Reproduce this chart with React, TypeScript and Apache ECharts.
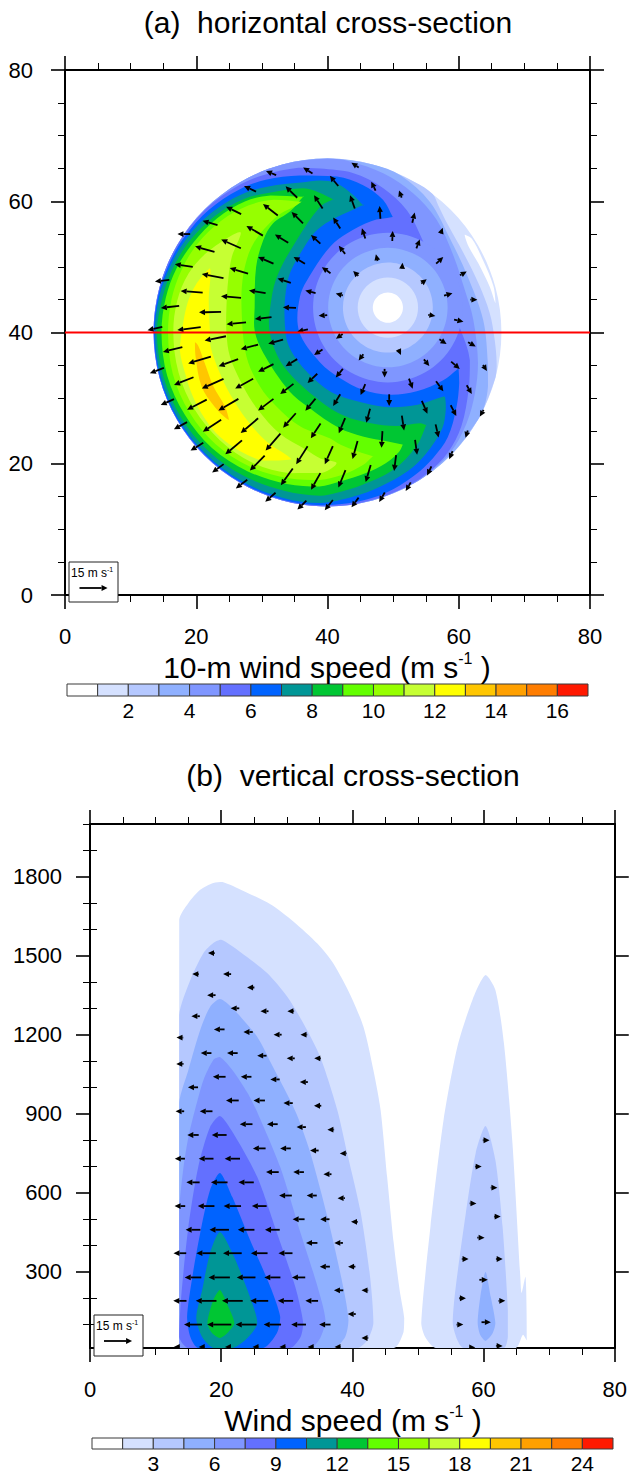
import React, { useEffect, useRef } from "react";
import * as echarts from "echarts";

const FONT = "Liberation Sans";
const levelColors = ["#ffffff","#d5e1ff","#b5c8ff","#8fb0ff","#7f96ff","#6370ff","#0063ff","#009696","#00c633","#63ff00","#96ff00","#c6ff33","#ffff00","#ffc600","#ffa000","#ff7d00","#ff1900"];
const heightMajor = [300, 600, 900, 1200, 1500, 1800];
const heightMinor = [100, 200, 400, 500, 700, 800, 1000, 1100, 1300, 1400, 1600, 1700, 1900, 2000];
const crossSectionLine = [[0, 40], [80, 40]];
const refSpeed = 15;
const pxPerMs = 1.87;

const stormCentre = [40, 40];
const eyeCentre = [49.2, 43.8];
const rimRadius = 26.5;
const rimDegrees = [0,15,30,45,60,75,90,105,120,135,150,165,180,195,210,225,240,255,270,285,300,315,330,345];
const eyeRadii = [11.4, 9.1, 6.85, 4.6, 2.3];

type P = number[];
const whitePatch = [[60.9,54.9],[62,54.3],[63.7,51],[65.3,47],[65.6,44.5],[64.7,47],[63,50.5],[61.5,53.1]];
const edge3 = [[345,26.5],[349.7,26.2],[357.5,25.5],[366.8,24.9],[378,24.2],[390.3,24],[401.7,24.6],[409,25.7],[412.8,26.5]];
const edge4 = [[335,26.4],[341.4,25.8],[349,24.9],[364.6,23.8],[382,23],[397.3,23.5],[412,25.3],[425,26.4]];
const edge5 = [[305,26.4],[315.4,26.2],[326.9,25.3],[337.6,24.3],[348.5,23.4],[365,22.3],[378,21.9],[391.6,22.5],[405.9,23.9],[418.4,24.9],[430.7,25.7],[442.5,26.3]];
const outer6 = [[45,20.3],[57,22.2],[69,23.6],[81,24.6],[92.6,25],[100,25.5],[112,25.9],[122,26.2],[134,26.4],[146,26.45],[157,26.5],[168,26.5],[180,26.5],[195,26.5],[210,26.5],[225,26.5],[240,26.5],[255,26.5],[268,26.5],[280,26.45],[294,26.4],[305,26.3],[315,25.9],[325,24.9],[338,23.2],[349,22.1],[360.3,20.4]];
const outer7 = [[60.5,20.2],[67.2,21.9],[76.4,23.1],[86.6,23.8],[100,24.3],[112,25.1],[122,25.6],[134,26],[146,26.2],[157,26.3],[168,26.4],[180,26.45],[195,26.45],[210,26.45],[225,26.4],[240,26.4],[255,26.4],[268,26.35],[280,26.2],[290,26],[301,25.5],[310,25],[319,24.3],[330,22.7],[339,21.5],[344.7,20.7]];
const inner7 = [[319,14.2],[307,13.9],[289,13.5],[271,13.3],[253,13.1],[236,13],[219,13.3],[195,14],[173,13.5],[156,12.8],[133,12.8],[119,12.9],[101,13.4],[87,13.8]];
const outer8 = [[74.2,20.1],[79.4,21.3],[86.5,22.8],[92.8,23.2],[100,23.2],[112,24],[122,24.8],[134,25.4],[146,25.8],[157,26],[168,26.2],[180,26.3],[195,26.3],[210,26.25],[225,26.2],[240,26.15],[255,26.1],[267.5,26],[279,25.3],[289,24.8],[300,24.4],[309,23.8],[320,22.8],[327,21.5],[331,20.5]];
const inner8 = [[302,16],[287,15.5],[271,15.2],[256,15],[240,15.4],[229,15.6],[210,16],[195,16.1],[166,15.8],[146,15.7],[130,16],[103,16.1]];
const outer9 = [[87.5,20.3],[93,21.3],[99.6,22.3],[112,23],[122,24],[134,24.7],[146,25.2],[157,25.5],[168,25.7],[180,26],[195,25.9],[210,25.8],[225,25.6],[240,25.3],[255,25],[267.5,24.9],[273,24.5],[283,23.8],[295.6,23.2],[308,22],[317,20.6]];
const inner9 = [[288,18.8],[285.6,18.3],[274,18.1],[261,17.8],[248,17.8],[234,17.6],[210,18.2],[192,18.4],[176,17.8],[163,17.5],[143,17.3],[124,18.5],[116.6,18.5]];
const outer10 = [[100,21],[112.5,22.6],[122,23.6],[134,24.2],[146,24.6],[157,25],[168,25.2],[180,25.3],[195,25.3],[210,25.1],[225,24.9],[240,24.4],[255,23.9],[267,23.5],[274.8,22.8],[285.6,22.2],[294,21.8],[301,21.2],[303.8,20.6]];
const inner10 = [[276,21],[270,20.4],[259,20],[248,19.8],[232,19.4],[220,19.7],[200,20.2],[190,20.6],[180,20.3],[163,21],[151.5,21.6],[143.7,21.7],[135.6,20.9],[127,21.3]];
const outer11 = [[101.2,20.3],[112,21.8],[122,22.8],[133.7,23.5],[146,24],[157,24.2],[168,24.3],[180,24.3],[195,24.4],[210,24.3],[225,24.1],[240,23.6],[255,23],[267,22.5],[276,21.8],[285,20.9],[290,20.1]];
const inner11 = [[264.5,22.8],[258,22.4],[251,22.1],[246,21.8],[233.5,22.5],[221.6,22.7],[211.7,22.9],[199,22.8],[180,22.3],[166.6,22.6],[154.5,22.7],[140.7,21.9],[131.7,20.9],[129,20.8]];
const outer12 = [[131,20.3],[146,22],[157,23],[168,23.4],[180,23.5],[195,23.5],[210,23.4],[225,23.2],[240,22.9],[255,22.2],[268,21.4],[274,19.95]];
const inner12 = [[245.9,25.2],[240.3,25],[229.3,25.3],[218.2,25.2],[208.6,25.1],[197.3,25.2],[189,24.9],[180,24.6],[170,24.7],[162,25]];
const yellow13 = [[22.1,49.8],[20.8,48.5],[19.5,46.5],[18.5,43.9],[17.8,40.1],[17.5,37.3],[18.3,33.8],[19.5,30.2],[21.3,26.9],[23.6,24.1],[26.7,21.9],[30.2,20.5],[34.5,20.7],[33.8,21.3],[30.7,23.4],[27.7,26.7],[25.1,30.7],[23.4,34.3],[22.2,37.8],[22.1,39.9],[21.9,44.9]];
const orange14 = [[19.8,38.5],[19.9,36.3],[20.8,31.8],[22.8,28.7],[25,26.7],[24.4,28.7],[22.6,31.8],[21.3,35.3],[20.3,38]];

const windA = [
[18.1,55,-6.8,0],[22.1,56.7,-8,2.3],[25.7,58.6,-8,3.9],[28.2,61.9,-6.4,3],[31.4,64.3,-5.4,2.3],[37,64.7,-5,3.2],[34.5,61.4,-6.2,6.1],[38.6,59.9,-4.6,7],[31.3,58.7,-7.9,6.1],[35.4,57.5,-6.1,6.1],
[28.9,55.5,-8.8,5.2],[33,54.3,-7.1,4.5],[38.2,54.2,-5,4.6],[25.3,53.5,-10.5,4.6],[21.3,52.7,-10.4,3],[18.1,50.2,-9.6,1.4],[26.5,49.4,-9.8,2.9],[30.6,51,-8.2,3.6],[35.7,51,-6.1,3.6],[14.8,47.9,-7.7,-0.9],
[22.5,48.6,-11.6,2.3],[33.4,47.9,-7.1,2.3],[19.3,46.2,-11.8,0.9],[25.3,45.4,-10.7,0.9],[29.3,46.2,-8.9,1.3],[37.4,46.2,-5.5,1.3],[16,43.9,-9.8,-1.1],[34.2,43.8,-7,0.4],[22.1,43.1,-11.8,-0.2],[39.3,42.6,-4.6,-0.4],
[26.1,41.4,-10.4,-1.1],[30.2,42.2,-8.9,-1.1],[13.7,40.6,-7.9,-1.8],[18.9,40.6,-12.5,-1.6],[36.2,40.3,-5.7,-1.3],
[44.2,65.5,-3.9,2.5],[41,63.1,-4.5,5.4],[47,62.3,-2.3,4.8],[51.1,61.1,-1.4,3.9],[43.8,59.9,-2.5,7.1],[48,58.3,-0.4,6.8],[41.4,56.7,-3.8,5.9],[53.1,57.5,1.3,5.4],[57.4,55.5,1.1,3.2],[45.5,55.1,-1.8,5.4],
[49.9,54.7,0.2,5.4],[53.8,53.5,1.8,4.8],[42.2,52.6,-3.4,4.3],[47.5,51.4,-0.9,3.6],[57.1,51,3.8,3.6],[51.4,50.2,0.2,3],[39.8,49.5,-4.6,3.2],[44.3,49,-2.7,2.7],[54.7,47.8,2.9,2.3],[60.7,49,3.6,2],
[41.8,45.8,-3.8,1.1],[58.4,45.8,4.5,1.3],[62.3,45,3.8,0],[55.9,42.6,3.8,-0.7],[60,41.8,5,-1.1],
[22.9,39.1,-11.4,-2.3],[16.4,37.4,-10.4,-2.5],[28.1,37.8,-9.3,-2.5],[32.1,38.6,-7.9,-2.3],[38.6,37,-4.5,-3],[20.5,35.8,-12.1,-3.6],[24.9,35.4,-10.4,-3.8],[30.6,34.6,-8.2,-4.1],[14,34.2,-7.5,-2.9],[34.5,35.4,-6.2,-3.8],
[18.1,32.6,-10.4,-4.1],[22.5,32.2,-11.6,-5.2],[27.3,32.2,-9.6,-5.2],[37.7,33,-5.2,-5],[33.8,31.4,-7.1,-5.4],[15.6,29.4,-7.1,-3.2],[20.1,29,-10.5,-5.4],[24.9,29,-10.7,-6.2],[30.6,29,-8.2,-6.2],[37.4,29,-5.4,-6.4],
[17.6,25.8,-7,-3.8],[22.4,25.8,-9.8,-6.4],[28.1,25.8,-9.3,-7.9],[34.2,26.6,-6.8,-7.7],[38.2,25,-5.2,-7.9],[20.1,22.6,-6.8,-4.1],[25.7,22.5,-8.9,-7.5],[31.7,23.3,-7.9,-9.1],[36.1,21.3,-6.1,-9.6],[23.3,19.3,-6.2,-4.5],
[29.3,20.1,-7.9,-8],[33.8,18,-6.4,-8.9],[38.2,17.3,-5,-8.9],[26.9,16.9,-6.1,-4.6],[31.3,14.9,-5.5,-4.8],[36.1,13.7,-4.8,-4.8],
[41.8,39.4,-3.6,-2.5],[57.6,38.6,3.8,-2.5],[62,38.2,4.1,-2.3],[45.1,36.2,-2.5,-3.4],[51,37,1.4,-3],[55.1,35.4,2.9,-3.6],[59.5,35,4.6,-3.9],[64,34.6,2.1,-3.2],[41.8,33.8,-3.8,-4.6],[48.7,33.8,0,-4.6],
[52.7,32.2,2,-5.4],[57.1,31.8,3.9,-5.4],[45.4,31.3,-2.5,-5.9],[61.6,31.3,2.7,-4.6],[41.4,29.7,-3.8,-6.2],[49.4,29.7,0,-6.2],[54.8,28.6,3,-6.8],[59.2,28.1,3,-5.7],[63.5,27.7,-2,-3.6],[46.2,27.3,-2,-7.5],
[51.5,26.2,1.2,-7.9],[42.2,25.8,-3.4,-8],[56.7,25,1.6,-7],[61.2,24.5,-1.2,-3.9],[48.3,23.7,-0.5,-8.9],[53.5,22.5,1.1,-8],[44.2,22.1,-2.7,-9.6],[58.8,21.3,-1.8,-4.3],[40.2,21.3,-4.3,-9.6],[50.3,20.1,-1.1,-8.4],
[55.5,18.9,-2.3,-4.8],[46.2,18.5,-2.7,-9.1],[42.2,17.7,-3.8,-9.3],[52.3,16.5,-2.7,-4.6],[48.3,14.9,-3,-5],[44.2,14.1,-3.8,-5.2],[40.2,13.7,-4.3,-5.4],
];

const b2left = [[13.6,10],[13.6,800],[13.6,1636],[15,1700],[16.8,1750],[18.8,1776],[20.2,1780],[23.4,1746],[27.5,1695],[31,1630],[34.7,1545],[37.1,1470],[39.7,1350],[41.7,1229],[43.2,1066],[44.3,914],[45.3,659],[46.3,409],[47.2,230],[47.9,124],[47.8,71],[46.3,10]];
const b3left = [[13.6,10],[13.6,640],[13.6,1275],[15.3,1408],[17.3,1510],[18.8,1548],[20,1560],[22.9,1514],[27,1434],[30.1,1343],[32.5,1244],[35.1,1115],[37.7,914],[39.2,751],[41.2,534],[42.7,280],[43.2,105],[42.3,40],[40.8,10]];
const b4left = [[13.6,10],[13.6,480],[13.6,941],[15,1066],[16.8,1218],[18.3,1305],[19.8,1335],[21.7,1301],[25.5,1191],[27.9,1077],[30.5,952],[31.8,880],[33.6,751],[36.2,508],[38.6,242],[39.4,116],[38.9,52],[37.1,10]];
const b5left = [[13.6,10],[13.6,270],[13.6,534],[14.2,686],[15,811],[16,914],[17.3,1028],[18.8,1104],[19.8,1115],[21.7,1066],[24,979],[25.6,900],[29,697],[32.1,447],[34.7,242],[35.9,116],[35.1,48],[33.6,10]];
const b6left = [[15,10],[13.6,52],[13.9,204],[15,470],[16.5,697],[18.3,849],[19.8,891],[21.8,827],[25.5,659],[28.5,447],[31.3,242],[32.5,105],[32.1,52],[30.5,10]];
const b7left = [[16.5,10],[15.3,52],[14.8,128],[15.6,280],[16.8,447],[18.3,610],[19.8,675],[21.7,583],[24.4,420],[27.5,242],[29,128],[28.5,67],[26.4,10]];
const b8left = [[18.8,10],[17.1,52],[16.2,124],[17.1,230],[18.3,371],[19.8,451],[21.7,371],[24,230],[25.5,105],[24,48],[21.8,10]];
const b9left = [[19.8,230],[18.8,192],[17.9,105],[18.6,67],[19.8,48],[21.1,71],[22,105],[21.1,166]];
const b2right = [[52.7,10],[51.1,52],[50.5,105],[51.9,470],[53.9,876],[56,1153],[58.3,1332],[60.3,1427],[61.8,1370],[63.1,1168],[64.4,789],[65.6,280],[65.8,219],[66.4,280],[66.6,40],[66,60],[64.9,10]];
const b3right = [[56.9,10],[56,40],[55.3,105],[55.7,230],[57.3,523],[58.8,751],[60.3,853],[61.8,724],[62.9,470],[63.7,154],[63.7,52],[63.1,10]];
const b4right = [[60.3,299],[59.5,204],[59.1,105],[59.5,59],[60.3,37],[61.4,67],[61.8,105],[61.1,204]];

const windB = [
[18.5,1510,-3.6],[16.1,1430,-3.6],[20.9,1430,-4.3],[24.5,1379,-3.9],[18.5,1350,-4.5],[22.1,1300,-4.6],[26.6,1289,-4.3],[30.6,1289,-3.6],[16.1,1270,-4.5],[19.7,1220,-5.7],
[24.1,1210,-5],[28.6,1200,-4.3],[32.6,1200,-3.6],[13.7,1189,-3.6],[17.7,1130,-5.7],[21.7,1130,-5.7],[26.2,1120,-5],[30.6,1110,-4.3],[34.7,1110,-3.6],[13.7,1089,-3.9],
[19.7,1040,-6.8],[23.8,1040,-5.7],[28.2,1030,-5],[32.6,1020,-4.3],[15.7,1000,-5.4],[21.7,950,-6.8],[25.8,950,-6.1],[30.2,940,-5],[34.7,930,-3.9],[13.7,909,-4.6],
[17.7,909,-6.8],[23.8,860,-6.8],[27.8,860,-5.7],[32.2,849,-5],[36.7,839,-3.6],[15.7,819,-6.1],[19.7,819,-7.9],[25.8,768,-6.8],[29.8,768,-5.7],[34.2,760,-4.6],
[38.6,749,-3.6],[13.7,729,-5.4],[17.7,729,-7.9],[21.7,729,-8.2],[27.8,678,-6.8],[31.8,678,-5.7],[36.2,670,-4.3],[15.7,639,-7.1],[19.7,639,-8.9],[23.8,639,-8.2],
[29.8,589,-6.8],[33.8,589,-5.4],[38.3,579,-3.9],[13.7,549,-5.7],[17.7,549,-8.9],[21.7,549,-9.3],[25.8,549,-7.9],[31.8,499,-6.4],[35.8,499,-5],[40.3,489,-3.6],
[15.7,459,-7.9],[19.7,459,-10.4],[23.8,459,-8.9],[27.8,459,-7.9],[33.8,409,-6.1],[37.9,409,-4.6],[13.7,370,-6.8],[17.7,370,-10.4],[21.7,370,-10],[25.8,370,-8.9],
[29.8,370,-7.5],[35.8,319,-5.4],[39.9,319,-3.9],[15.7,278,-8.9],[19.7,278,-11.4],[23.8,278,-10],[27.8,278,-8.6],[31.8,278,-7.1],[37.9,229,-5],[41.9,229,-3.6],
[13.7,189,-7.1],[17.7,189,-11.1],[21.7,189,-11.1],[25.8,189,-9.6],[29.8,189,-8.2],[33.8,189,-6.8],[39.9,139,-4.3],[15.7,99,-9.6],[19.7,99,-12.9],[23.8,99,-11.1],
[27.8,99,-9.3],[31.8,99,-7.9],[35.8,99,-6.1],[41.9,48,-3.6],[13.2,14,-3],[17,14,-3],[21,14,-3],[25.2,14,-3],[29.3,14,-3],[33.6,14,-3],[37.7,14,-3],
[60.4,799,3.6],[59.2,699,3.6],[61.6,619,3.6],[58.4,559,3.6],[62.1,509,3.6],[59.6,429,3.9],[57.2,348,3.6],[62.4,348,3.6],[60,269,4.5],[56.8,199,3.6],[62.8,189,3.6],[56.4,99,3.6],[60.4,108,5],[62.4,18,3.6],[58.3,12,3],
];

function polar(c: P, list: number[][]): number[][] {
  return list.map(([deg, r]) => [c[0] + r * Math.cos((deg * Math.PI) / 180), c[1] + r * Math.sin((deg * Math.PI) / 180)]);
}
function rim(from: number, to: number): number[][] {
  return rimDegrees.filter((d) => d > from && d < to).map((d) => [d, rimRadius]);
}
const layersA: { color: string; points: number[][] }[] = [
  { color: levelColors[1], points: polar(stormCentre, rimDegrees.map((d) => [d, rimRadius])) },
  { color: levelColors[0], points: whitePatch },
  { color: levelColors[2], points: polar(stormCentre, [...rim(52, 345), ...edge3]) },
  { color: levelColors[3], points: polar(stormCentre, [...rim(65, 335), ...edge4]) },
  { color: levelColors[4], points: polar(stormCentre, [...rim(82, 305), ...edge5]) },
  { color: levelColors[5], points: polar(stormCentre, outer6) },
  { color: levelColors[6], points: [...polar(stormCentre, outer7), ...polar(eyeCentre, inner7)] },
  { color: levelColors[7], points: [...polar(stormCentre, outer8), ...polar(eyeCentre, inner8)] },
  { color: levelColors[8], points: [...polar(stormCentre, outer9), ...polar(eyeCentre, inner9)] },
  { color: levelColors[9], points: [...polar(stormCentre, outer10), ...polar(eyeCentre, inner10)] },
  { color: levelColors[10], points: [...polar(stormCentre, outer11), ...polar(eyeCentre, inner11)] },
  { color: levelColors[11], points: [...polar(stormCentre, outer12), ...polar(eyeCentre, inner12)] },
  { color: levelColors[12], points: yellow13 },
  { color: levelColors[13], points: orange14 },
  ...eyeRadii.map((r, i) => ({ color: levelColors[4 - i], points: polar(eyeCentre, rimDegrees.map((d) => [d, r])) })),
];
const layersB = [
  { color: levelColors[1], points: b2left }, { color: levelColors[2], points: b3left }, { color: levelColors[3], points: b4left },
  { color: levelColors[4], points: b5left }, { color: levelColors[5], points: b6left }, { color: levelColors[6], points: b7left },
  { color: levelColors[7], points: b8left }, { color: levelColors[8], points: b9left },
  { color: levelColors[1], points: b2right }, { color: levelColors[2], points: b3right }, { color: levelColors[3], points: b4right },
];

function contourSeries(layers: { color: string; points: number[][] }[], axis: number, smooth: number) {
  return {
    type: "custom", xAxisIndex: axis, yAxisIndex: axis, z: 2, silent: true, clip: true,
    data: layers.map((_, i) => [i]),
    renderItem: (_p: any, api: any) => {
      const l = layers[api.value(0)];
      const pts: number[][] = l.points.map((p) => api.coord(p));
      const xs = pts.map((p) => p[0]);
      const ys = pts.map((p) => p[1]);
      const bounds = [[Math.min(...xs), Math.min(...ys)], [Math.max(...xs), Math.max(...ys)]];
      return { type: "polygon", shape: { points: pts, smooth, smoothConstraint: bounds }, style: { fill: l.color } };
    },
  };
}
function arrowShape(cx: number, cy: number, dx: number, dy: number) {
  const len = Math.hypot(dx, dy) || 1;
  const ux = dx / len, uy = dy / len;
  const tip = [cx + dx / 2, cy + dy / 2];
  const base = [tip[0] - ux * 6, tip[1] - uy * 6];
  return [
    { type: "line", shape: { x1: cx - dx / 2, y1: cy - dy / 2, x2: base[0], y2: base[1] }, style: { stroke: "#000", lineWidth: 1.8 } },
    { type: "polygon", shape: { points: [tip, [base[0] - uy * 2.9, base[1] + ux * 2.9], [base[0] + uy * 2.9, base[1] - ux * 2.9]] }, style: { fill: "#000" } },
  ];
}
function windSeries(rows: number[][], axis: number) {
  return {
    type: "custom", xAxisIndex: axis, yAxisIndex: axis, z: 3, silent: true, clip: axis !== 0,
    data: rows,
    renderItem: (_p: any, api: any) => {
      const [cx, cy] = api.coord([api.value(0), api.value(1)]);
      const v = rows[_p.dataIndex][3] || 0;
      return { type: "group", children: arrowShape(cx, cy, api.value(2) * pxPerMs, -v * pxPerMs) };
    },
  };
}
function barSeries(axisX: number, axisY: number, step: number) {
  return {
    type: "custom", xAxisIndex: axisX, yAxisIndex: axisY, silent: true, clip: false,
    data: levelColors.map((_, i) => [i * step, (i + 1) * step]),
    renderItem: (p: any, api: any) => {
      const a = api.coord([api.value(0), 1]);
      const b = api.coord([api.value(1), 0]);
      return { type: "rect", shape: { x: a[0], y: a[1], width: b[0] - a[0], height: b[1] - a[1] }, style: { fill: levelColors[p.dataIndex], stroke: "#3a3a3a", lineWidth: 1 } };
    },
  };
}
const lineStyle = { color: "#000", width: 2 };
const thin = { color: "#000", width: 1 };
const labelStyle = { fontFamily: FONT, fontSize: 22, color: "#000" };
const plain = (v: number) => String(v);

function xAxisPair(grid: number) {
  const common = {
    gridIndex: grid, type: "value", min: 0, max: 80, interval: 20, splitLine: { show: false },
    axisLine: { show: true, onZero: false, lineStyle }, axisTick: { show: true, length: 14, lineStyle: { color: "#000", width: 1.6 } },
    minorTick: { show: true, splitNumber: 4, length: 7, lineStyle: thin },
  };
  return [
    { ...common, position: "bottom", axisLabel: { ...labelStyle, margin: 30, showMinLabel: true, showMaxLabel: true } },
    { ...common, position: "top", axisLabel: { show: false } },
  ];
}
function colorbarX(grid: number, max: number, interval: number) {
  return {
    gridIndex: grid, type: "value", min: 0, max, interval, position: "bottom", splitLine: { show: false },
    axisLine: { show: false }, axisTick: { show: false },
    axisLabel: { fontFamily: FONT, fontSize: 21, color: "#000", margin: 4, showMinLabel: false, showMaxLabel: false },
  };
}
function unitTitle(text: string, x: number, y: number) {
  const a = { fontFamily: FONT, fontSize: 30, fontWeight: "normal", color: "#000", lineHeight: 34 };
  const s = { fontFamily: FONT, fontSize: 16, fontWeight: "normal", color: "#000", verticalAlign: "top", lineHeight: 34 };
  return { text: `{a|${text} (m s}{s|-1}{a| )}`, left: x, top: y, textAlign: "center", padding: 0, textStyle: { rich: { a, s } } };
}
function vectorKey(x: number, y: number, w: number, h: number, ax: number, ay: number, tx: number, ty: number) {
  const len = refSpeed * pxPerMs;
  return [
    { type: "rect", z: 50, shape: { x, y, width: w, height: h }, style: { fill: "#fff", stroke: "#222", lineWidth: 1 } },
    { type: "text", z: 51, x: tx, y: ty, style: { text: "{a|15 m s}{s|-1}", fill: "#000", rich: { a: { fontFamily: FONT, fontSize: 12, fill: "#000", lineHeight: 14 }, s: { fontFamily: FONT, fontSize: 7, fill: "#000", verticalAlign: "top", lineHeight: 14 } } } },
    ...arrowShape(ax + len / 2, ay, len, 0).map((e) => ({ ...e, z: 51 })),
  ];
}

export default function App() {
  const ref = useRef<HTMLDivElement>(null);
  useEffect(() => {
    document.body.style.margin = "0";
    const chart = echarts.init(ref.current!, undefined, { renderer: "svg" });
    const titleStyle = { fontFamily: FONT, fontSize: 30, fontWeight: "normal", color: "#000" };
    const option: any = {
      animation: false,
      backgroundColor: "#fff",
      title: [
        { text: "(a)  horizontal cross-section", left: 328, top: 7, textAlign: "center", padding: 0, textStyle: titleStyle },
        { text: "(b)  vertical cross-section", left: 353, top: 760, textAlign: "center", padding: 0, textStyle: titleStyle },
        unitTitle("10-m wind speed", 327, 650),
        unitTitle("Wind speed", 353, 1403),
      ],
      grid: [
        { left: 65, top: 70, width: 525, height: 525 },
        { left: 90, top: 824, width: 525, height: 524 },
        { left: 67, top: 684, width: 521, height: 12 },
        { left: 92, top: 1438, width: 521, height: 12 },
      ],
      xAxis: [...xAxisPair(0), ...xAxisPair(1), colorbarX(2, 17, 2), colorbarX(3, 25.5, 3)],
      yAxis: [
        { gridIndex: 0, type: "value", min: 0, max: 80, interval: 20, position: "left", splitLine: { show: false }, axisLine: { show: true, onZero: false, lineStyle }, axisTick: { show: true, length: 14, lineStyle: { color: "#000", width: 1.6 } }, minorTick: { show: true, splitNumber: 4, length: 7, lineStyle: thin }, axisLabel: { ...labelStyle, margin: 32 } },
        { gridIndex: 0, type: "value", min: 0, max: 80, interval: 20, position: "right", splitLine: { show: false }, axisLine: { show: true, onZero: false, lineStyle }, axisTick: { show: true, length: 14, lineStyle: { color: "#000", width: 1.6 } }, minorTick: { show: true, splitNumber: 4, length: 7, lineStyle: thin }, axisLabel: { show: false } },
        { gridIndex: 1, type: "value", min: 10, max: 2000, position: "left", splitLine: { show: false }, axisLine: { show: true, onZero: false, lineStyle }, axisTick: { show: true, length: 14, customValues: heightMajor, lineStyle: { color: "#000", width: 1.6 } }, axisLabel: { ...labelStyle, margin: 28, customValues: heightMajor, formatter: plain } },
        { gridIndex: 1, type: "value", min: 10, max: 2000, position: "right", splitLine: { show: false }, axisLine: { show: true, onZero: false, lineStyle }, axisTick: { show: true, length: 14, customValues: heightMajor, lineStyle: { color: "#000", width: 1.6 } }, axisLabel: { show: false } },
        { gridIndex: 1, type: "value", min: 10, max: 2000, position: "left", splitLine: { show: false }, axisLine: { show: false }, axisTick: { show: true, length: 7, customValues: heightMinor, lineStyle: thin }, axisLabel: { show: false } },
        { gridIndex: 1, type: "value", min: 10, max: 2000, position: "right", splitLine: { show: false }, axisLine: { show: false }, axisTick: { show: true, length: 7, customValues: heightMinor, lineStyle: thin }, axisLabel: { show: false } },
        { gridIndex: 2, type: "value", min: 0, max: 1, show: false },
        { gridIndex: 3, type: "value", min: 0, max: 1, show: false },
      ],
      series: [
        contourSeries(layersA, 0, 0.34),
        windSeries(windA, 0),
        { type: "line", xAxisIndex: 0, yAxisIndex: 0, z: 4, silent: true, showSymbol: false, data: crossSectionLine, lineStyle: { color: "#ff0000", width: 2 } },
        { ...contourSeries(layersB, 2, 0.25), yAxisIndex: 2 },
        { ...windSeries(windB, 2), yAxisIndex: 2 },
        barSeries(4, 6, 1),
        barSeries(5, 7, 1.5),
      ],
      graphic: [
        ...vectorKey(69, 562, 49, 40, 79.5, 588, 71, 566),
        ...vectorKey(94, 1315, 49, 41, 104, 1341, 96, 1319),
      ],
    };
    chart.setOption(option);
    return () => chart.dispose();
  }, []);
  return <div ref={ref} style={{ position: "absolute", left: 0, top: 0, width: 630, height: 1474 }} />;
}
